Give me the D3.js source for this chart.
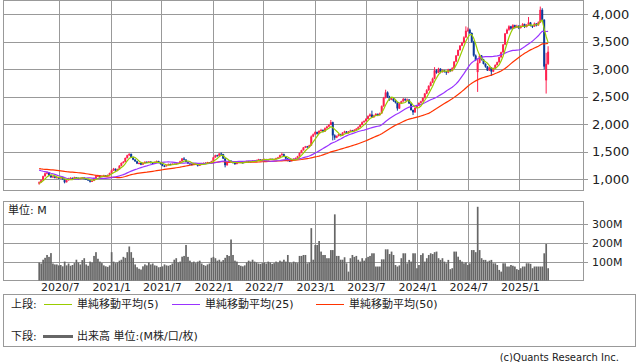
<!DOCTYPE html>
<html>
<head>
<meta charset="UTF-8">
<style>
body { margin: 0; background: #fff; }
svg { display: block; font-family: "DejaVu Sans", "Noto Sans CJK JP", sans-serif; }
.frame { fill: none; stroke: #999; stroke-width: 1; shape-rendering: crispEdges; }
.grid line { stroke: #999; stroke-width: 1; shape-rendering: crispEdges; }
.tick line { stroke: #999; shape-rendering: crispEdges; }
.lbl { fill: #222; }
.ma { fill: none; stroke-width: 1.2; }
</style>
</head>
<body>
<svg id="chart" width="638" height="362"></svg>
<script src="https://d3js.org/d3.v7.min.js"></script>
<script>

// weekly candles, first week starts 2020/4/20
var firstWeek = new Date(2020, 3, 20);

// [open, high, low, close]
var candles = [
[925,965,905,950],[950,995,940,985],[985,1070,980,1060],[1060,1125,1050,1110],[1110,1150,1095,1125],
[1125,1135,1060,1075],[1075,1085,1030,1040],[1040,1070,1030,1055],[1055,1060,1020,1030],[1030,1050,1020,1040],
[1040,1045,1010,1020],[1020,1055,1015,1045],[1045,1050,995,1005],[1005,1010,930,950],[950,995,945,985],
[985,1030,980,1020],[1020,1040,1010,1030],[1030,1035,1000,1010],[1010,1050,1005,1040],[1040,1045,1020,1030],
[1030,1035,1000,1010],[1010,1035,1005,1025],[1025,1045,1015,1035],[1035,1040,1000,1010],[1010,1020,990,1000],
[1000,1005,975,985],[985,990,945,960],[960,985,955,975],[975,1035,970,1025],[1025,1070,1020,1060],
[1060,1085,1050,1070],[1070,1075,1040,1050],[1050,1070,1045,1060],[1060,1085,1055,1075],[1075,1080,1050,1060],
[1060,1090,1055,1080],[1080,1125,1075,1115],[1115,1180,1110,1165],[1165,1210,1155,1195],[1195,1200,1150,1160],
[1160,1195,1150,1185],[1185,1260,1180,1250],[1250,1310,1240,1300],[1300,1335,1290,1320],[1320,1400,1315,1390],
[1390,1450,1380,1440],[1440,1475,1425,1465],[1465,1470,1390,1400],[1400,1410,1350,1360],[1360,1370,1320,1330],
[1330,1340,1280,1290],[1290,1310,1275,1300],[1300,1305,1260,1270],[1270,1310,1265,1300],[1300,1330,1290,1320],
[1320,1330,1300,1310],[1310,1335,1305,1325],[1325,1330,1290,1300],[1300,1310,1280,1290],[1290,1325,1285,1320],
[1320,1345,1310,1335],[1335,1340,1295,1300],[1300,1305,1270,1280],[1280,1285,1240,1250],[1250,1260,1225,1240],
[1240,1270,1235,1260],[1260,1290,1255,1280],[1280,1290,1260,1270],[1270,1295,1265,1285],[1285,1290,1265,1275],
[1275,1300,1270,1290],[1290,1310,1285,1300],[1300,1340,1295,1330],[1330,1390,1325,1380],[1380,1405,1350,1360],
[1360,1370,1310,1320],[1320,1330,1280,1290],[1290,1295,1270,1280],[1280,1290,1255,1270],[1270,1295,1265,1285],
[1285,1290,1265,1275],[1275,1280,1235,1250],[1250,1275,1245,1265],[1265,1300,1260,1290],[1290,1310,1285,1300],
[1300,1310,1285,1295],[1295,1320,1290,1310],[1310,1315,1290,1300],[1300,1340,1295,1330],[1330,1410,1325,1400],
[1400,1450,1395,1440],[1440,1450,1415,1430],[1430,1480,1425,1470],[1470,1490,1450,1460],[1460,1465,1370,1380],
[1380,1390,1220,1260],[1260,1320,1250,1310],[1310,1350,1300,1340],[1340,1350,1310,1320],[1320,1330,1290,1300],
[1300,1310,1265,1280],[1280,1310,1275,1300],[1300,1330,1295,1320],[1320,1325,1300,1310],[1310,1315,1290,1300],
[1300,1330,1295,1320],[1320,1340,1315,1330],[1330,1335,1305,1315],[1315,1335,1310,1325],[1325,1350,1320,1340],
[1340,1345,1320,1330],[1330,1360,1325,1350],[1350,1375,1345,1365],[1365,1370,1340,1350],[1350,1370,1345,1360],
[1360,1380,1355,1370],[1370,1375,1345,1355],[1355,1375,1350,1365],[1365,1385,1360,1375],[1375,1380,1350,1360],
[1360,1380,1355,1370],[1370,1395,1365,1385],[1385,1410,1380,1400],[1400,1450,1395,1440],[1440,1485,1435,1460],
[1460,1470,1410,1420],[1420,1425,1370,1380],[1380,1390,1330,1340],[1340,1345,1320,1330],[1330,1365,1325,1355],
[1355,1385,1350,1375],[1375,1400,1370,1390],[1390,1430,1385,1420],[1420,1490,1415,1480],[1480,1540,1475,1530],
[1530,1590,1525,1580],[1580,1610,1570,1600],[1600,1610,1575,1590],[1590,1630,1585,1620],[1620,1800,1610,1780],
[1780,1835,1770,1820],[1820,1875,1810,1860],[1860,1870,1815,1830],[1830,1895,1825,1880],[1880,1920,1870,1900],
[1900,1910,1855,1870],[1870,1945,1865,1930],[1930,1975,1920,1960],[1960,2005,1950,1990],[1990,2080,1985,2040],
[2040,2050,1710,1800],[1800,1820,1720,1760],[1760,1800,1750,1790],[1790,1830,1780,1820],[1820,1830,1785,1800],
[1800,1860,1795,1850],[1850,1885,1840,1870],[1870,1880,1830,1840],[1840,1880,1835,1870],[1870,1905,1865,1890],
[1890,1900,1870,1880],[1880,1915,1875,1900],[1900,1935,1895,1920],[1920,1965,1915,1950],[1950,2005,1945,1990],
[1990,2055,1985,2040],[2040,2075,2030,2060],[2060,2115,2050,2100],[2100,2165,2090,2150],[2150,2200,2140,2180],
[2180,2250,2120,2130],[2130,2175,2120,2160],[2160,2205,2150,2190],[2190,2200,2150,2170],[2170,2215,2160,2200],
[2200,2345,2195,2330],[2330,2500,2320,2480],[2480,2630,2470,2580],[2580,2600,2480,2500],[2500,2520,2430,2450],
[2450,2490,2440,2470],[2470,2480,2410,2430],[2430,2440,2380,2400],[2400,2410,2250,2290],[2290,2390,2280,2380],
[2380,2430,2370,2420],[2420,2480,2410,2460],[2460,2475,2420,2440],[2440,2470,2430,2450],[2450,2460,2370,2380],
[2380,2390,2250,2260],[2260,2270,2170,2220],[2220,2310,2210,2300],[2300,2350,2290,2340],[2340,2400,2330,2390],
[2390,2430,2380,2420],[2420,2490,2410,2480],[2480,2570,2470,2560],[2560,2640,2550,2620],[2620,2710,2610,2700],
[2700,2780,2690,2760],[2760,2850,2750,2830],[2830,3040,2820,2980],[2980,3000,2920,2940],[2940,3030,2930,3010],
[3010,3020,2930,2950],[2950,3000,2940,2980],[2980,2990,2940,2960],[2960,2970,2900,2940],[2940,3010,2930,3000],
[3000,3010,2950,2970],[2970,3040,2960,3020],[3020,3150,3010,3140],[3140,3260,3130,3250],[3250,3360,3240,3350],
[3350,3440,3340,3430],[3430,3500,3420,3480],[3480,3600,3470,3580],[3580,3780,3570,3700],[3700,3760,3680,3720],
[3720,3740,3640,3660],[3660,3670,3480,3500],[3500,3520,3230,3250],[3250,3270,3150,3170],[2950,3200,2590,3120],
[3120,3280,3110,3250],[3250,3260,3160,3180],[3180,3190,3090,3100],[3100,3110,3030,3050],[3050,3060,2970,2980],
[2980,3050,2970,3030],[3030,3040,2880,2960],[2960,3030,2950,3020],[3020,3090,3010,3080],[3080,3140,3070,3130],
[3130,3230,3120,3220],[3220,3320,3210,3310],[3310,3460,3300,3450],[3450,3660,3440,3650],[3650,3740,3640,3720],
[3720,3800,3700,3780],[3780,3790,3720,3740],[3740,3820,3730,3800],[3800,3810,3740,3760],[3760,3810,3750,3790],
[3790,3800,3730,3750],[3750,3800,3740,3780],[3780,3840,3770,3820],[3820,3830,3750,3770],[3770,3820,3760,3800],
[3800,3950,3790,3850],[3850,3860,3780,3790],[3790,3800,3750,3780],[3780,3850,3770,3830],[3830,3840,3780,3800],
[3800,3870,3790,3850],[3850,4140,3840,4080],[4080,4110,3880,3900],[3900,3910,3000,3050],[2800,3300,2560,3100],
[3100,3420,3080,3320]
];

// weekly volume, millions
var volumes = [
95,90,110,120,135,125,145,90,85,85,
80,82,75,100,80,90,78,82,92,110,
95,85,108,118,85,78,100,95,130,150,
115,100,92,80,75,72,80,150,100,92,
95,105,110,125,120,150,180,150,120,85,
70,62,58,75,85,80,95,85,90,80,
78,70,72,75,85,80,78,82,90,110,
118,95,100,126,130,188,125,105,95,100,
92,100,105,90,82,78,85,90,120,125,
118,105,110,100,108,120,135,130,217,135,
105,100,82,78,75,80,95,105,100,110,
100,95,90,88,92,95,90,100,95,88,
92,100,95,105,100,110,100,135,95,92,
100,95,92,130,130,135,135,91,95,277,
110,188,188,209,153,135,135,118,118,161,
161,350,130,130,110,110,123,91,47,118,
135,125,130,110,100,118,105,118,125,130,
144,144,74,74,74,112,112,165,165,140,
153,135,82,74,80,118,144,144,91,109,
100,144,144,65,82,135,144,100,118,135,
144,140,150,153,118,109,118,100,91,109,
60,65,153,153,126,109,100,91,95,82,
91,161,161,150,390,161,118,109,109,100,
105,109,91,91,82,56,47,91,91,74,
74,82,78,74,60,56,65,74,74,91,
91,88,65,74,74,74,74,74,144,193,
65
];

// closes before the window, only used so the averages start where the picture shows
var warmupCloses = [
1280,1270,1250,1230,1220,1210,1200,1210,1230,1240,1250,1260,1230,1210,1190,1180,1160,1170,1190,1200,1230,1250,1260,1240,1250,
1270,1290,1300,1310,1320,1310,1300,1320,1330,1320,1300,1290,1280,
1260,1270,1230,1100,1000,930,880,870,920,950,940
];

var priceTicks = [1000, 1500, 2000, 2500, 3000, 3500, 4000];
var volumeTicks = [100, 200, 300];
var dateTicks = [[2020,6],[2021,0],[2021,6],[2022,0],[2022,6],[2023,0],[2023,6],[2024,0],[2024,6],[2025,0]];
var dateLabels = ["2020/7","2021/1","2021/7","2022/1","2022/7","2023/1","2023/7","2024/1","2024/7","2025/1"];

var maSpecs = [
  {n: 5,  color: "#99cc00", label: "単純移動平均(5)"},
  {n: 25, color: "#9933ff", label: "単純移動平均(25)"},
  {n: 50, color: "#ff3300", label: "単純移動平均(50)"}
];

var upColor = "#ff1f4f", downColor = "#0a3a9a";

var svg = d3.select("#chart");

var left = 3.5, right = 583.5;
var x = d3.scaleTime()
    .domain([new Date(2020, 6, 1), new Date(2025, 0, 1)])
    .range([59.3, 519.3]);
var yP = d3.scaleLinear().domain([800, 4250]).range([190.5, 0.5]);
var yV = d3.scaleLinear().domain([0, 418]).range([280.5, 201.5]);

var data = candles.map(function(c, i) {
  return {date: d3.timeDay.offset(firstWeek, 7 * i), o: c[0], h: c[1], l: c[2], c: c[3], v: volumes[i]};
});

var allCloses = warmupCloses.concat(data.map(function(d) { return d.c; }));
var off = warmupCloses.length;
maSpecs.forEach(function(s) {
  s.values = data.map(function(d, i) {
    var end = i + off + 1;
    return {date: d.date, v: d3.mean(allCloses.slice(end - s.n, end))};
  });
});

function px(v) { return Math.round(v) + 0.5; }

// ---- grids ----
var gx = dateTicks.map(function(t) { return new Date(t[0], t[1], 1); });

var gP = svg.append("g").attr("class", "grid");
gP.selectAll("line.h").data(priceTicks).enter().append("line")
    .attr("x1", left).attr("x2", right + 4)
    .attr("y1", function(d) { return px(yP(d)); }).attr("y2", function(d) { return px(yP(d)); });
gP.selectAll("line.v").data(gx).enter().append("line")
    .attr("x1", function(d) { return px(x(d)); }).attr("x2", function(d) { return px(x(d)); })
    .attr("y1", 0.5).attr("y2", 190.5);

var gV = svg.append("g").attr("class", "grid");
gV.selectAll("line.h").data(volumeTicks).enter().append("line")
    .attr("x1", left).attr("x2", right + 4)
    .attr("y1", function(d) { return px(yV(d)); }).attr("y2", function(d) { return px(yV(d)); });
gV.selectAll("line.v").data(gx).enter().append("line")
    .attr("x1", function(d) { return px(x(d)); }).attr("x2", function(d) { return px(x(d)); })
    .attr("y1", 201.5).attr("y2", 280.5);

svg.append("rect").attr("class", "frame").attr("x", left).attr("y", 0.5).attr("width", right - left).attr("height", 190);
svg.append("rect").attr("class", "frame").attr("x", left).attr("y", 201.5).attr("width", right - left).attr("height", 79);

// ---- axis labels ----
svg.selectAll("text.py").data(priceTicks).enter().append("text")
    .attr("class", "lbl").attr("x", 592).attr("y", function(d) { return yP(d) + 4.5; })
    .style("font-size", "13px").text(d3.format(","));

svg.selectAll("text.vy").data(volumeTicks).enter().append("text")
    .attr("class", "lbl").attr("x", 592).attr("y", function(d) { return yV(d) + 4; })
    .style("font-size", "11px").text(function(d) { return d + "M"; });

svg.selectAll("text.dx").data(gx).enter().append("text")
    .attr("class", "lbl").attr("x", function(d) { return x(d) + 1; }).attr("y", 290.5)
    .attr("text-anchor", "middle").style("font-size", "11px")
    .text(function(d, i) { return dateLabels[i]; });

svg.append("text").attr("class", "lbl").attr("x", 8).attr("y", 214)
    .style("font-size", "11px").text("単位: M");

// ---- volume ----
svg.append("g").selectAll("rect").data(data).enter().append("rect")
    .attr("x", function(d) { return x(d.date) - 0.8; })
    .attr("width", 1.7)
    .attr("y", function(d) { return yV(d.v); })
    .attr("height", function(d) { return yV(0) - yV(d.v); })
    .attr("fill", "#666");

// ---- candles ----
var gc = svg.append("g");
gc.selectAll("line").data(data).enter().append("line")
    .attr("x1", function(d) { return x(d.date); }).attr("x2", function(d) { return x(d.date); })
    .attr("y1", function(d) { return yP(d.h); }).attr("y2", function(d) { return yP(d.l); })
    .attr("stroke", function(d) { return d.c >= d.o ? upColor : downColor; })
    .attr("stroke-width", 1);
gc.selectAll("rect").data(data).enter().append("rect")
    .attr("x", function(d) { return x(d.date) - 1; })
    .attr("width", 2)
    .attr("y", function(d) { return yP(Math.max(d.o, d.c)); })
    .attr("height", function(d) { return Math.max(1, Math.abs(yP(d.o) - yP(d.c))); })
    .attr("fill", function(d) { return d.c >= d.o ? upColor : downColor; });

// ---- moving averages ----
var line = d3.line().x(function(d) { return x(d.date); }).y(function(d) { return yP(d.v); });
maSpecs.slice().reverse().forEach(function(s) {
  svg.append("path").datum(s.values).attr("class", "ma").attr("stroke", s.color).attr("d", line);
});

// ---- legend ----
var lg = svg.append("g").style("font-size", "11px");
lg.append("rect").attr("class", "frame").attr("x", 3.5).attr("y", 294.5).attr("width", 632).attr("height", 52);
lg.append("text").attr("class", "lbl").attr("x", 11).attr("y", 308).text("上段:");
var lx = [44, 172, 316];
maSpecs.forEach(function(s, i) {
  lg.append("line").attr("x1", lx[i]).attr("x2", lx[i] + 28).attr("y1", 304.5).attr("y2", 304.5)
    .attr("stroke", s.color).attr("stroke-width", 1);
  lg.append("text").attr("class", "lbl").attr("x", lx[i] + 33).attr("y", 308).text(s.label);
});
lg.append("text").attr("class", "lbl").attr("x", 11).attr("y", 340).text("下段:");
lg.append("line").attr("x1", 43).attr("x2", 73).attr("y1", 336.5).attr("y2", 336.5)
    .attr("stroke", "#666").attr("stroke-width", 3);
lg.append("text").attr("class", "lbl").attr("x", 77).attr("y", 340).text("出来高 単位:(M株/口/枚)");

svg.append("text").attr("class", "lbl").attr("x", 619).attr("y", 360.5).attr("text-anchor", "end")
    .style("font-size", "10px").text("(c)Quants Research Inc.");

</script>
</body>
</html>
